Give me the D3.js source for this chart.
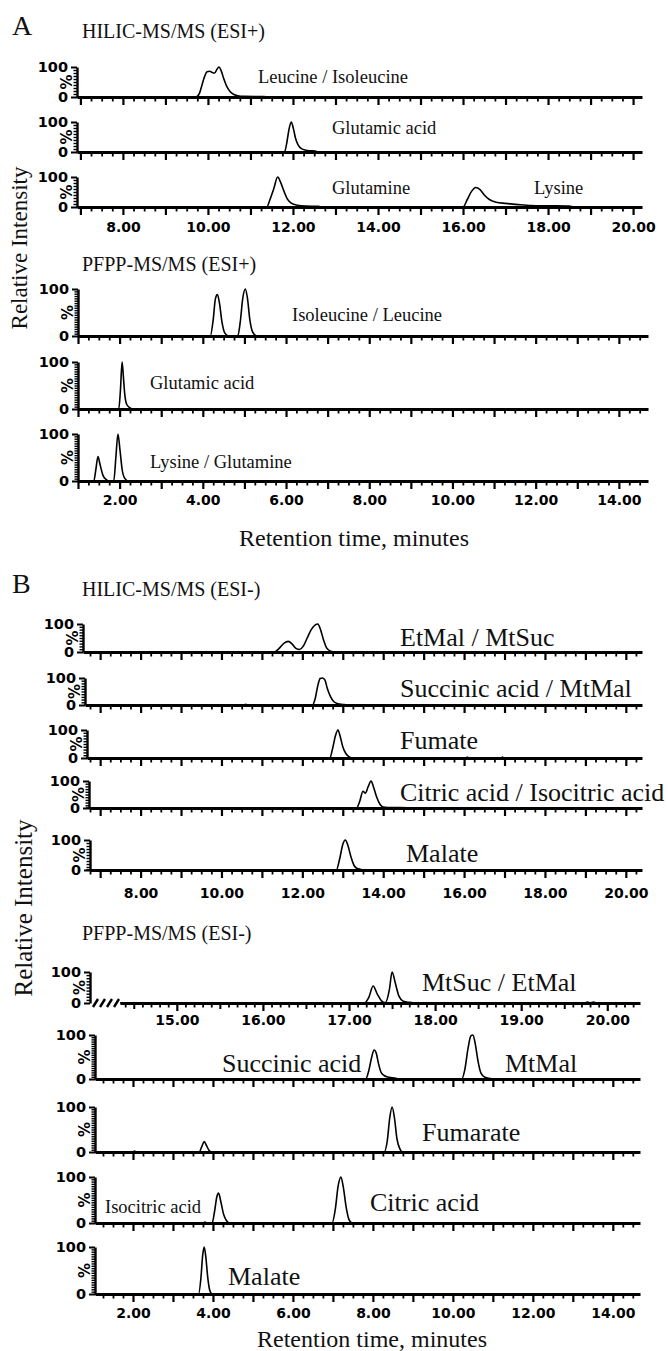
<!DOCTYPE html>
<html>
<head>
<meta charset="utf-8">
<script src="https://cdn.jsdelivr.net/npm/d3@7"></script>
<style>
  body { margin: 0; background: #fff; }
  svg { display: block; }
</style>
</head>
<body>
<div id="chart"></div>
<script>
// Chromatogram traces: [retention time (min), relative intensity (%)]
const aHilicLeuIle = [[6.92,0],[9.72,0],[9.8,12],[9.86,40],[9.92,68],[9.98,84],[10.04,86],[10.1,82],[10.16,80],[10.21,92],[10.26,100],[10.31,88],[10.37,62],[10.44,36],[10.52,18],[10.6,9],[10.7,4],[10.85,2],[11.1,1.5],[11.3,1.5],[11.45,0],[20.21,0]];
const aHilicGlu = [[6.92,0],[11.8,0],[11.86,35],[11.91,78],[11.96,100],[12.01,78],[12.06,46],[12.12,24],[12.2,11],[12.3,6],[12.42,4],[12.52,3],[12.58,0],[20.21,0]];
const aHilicGlnLys = [[6.92,0],[11.38,0],[11.46,25],[11.55,62],[11.64,100],[11.71,82],[11.79,52],[11.87,26],[11.97,12],[12.1,6],[12.3,3],[12.6,2],[12.68,0],[16.0,0],[16.1,25],[16.2,52],[16.3,65],[16.4,58],[16.5,40],[16.62,25],[16.78,16],[17.0,12],[17.3,8],[17.6,5],[18.0,4],[18.5,3],[18.6,0],[20.21,0]];

const aPfppIleLeu = [[1.0,0],[4.18,0],[4.25,35],[4.3,78],[4.35,88],[4.4,70],[4.46,30],[4.53,6],[4.62,0],[4.84,0],[4.9,30],[4.96,80],[5.02,100],[5.07,82],[5.13,35],[5.2,8],[5.3,0],[6.0,0]];
const aPfppGlu = [[1.0,0],[1.98,0],[2.02,40],[2.06,100],[2.09,70],[2.12,35],[2.17,10],[2.24,3],[2.3,0],[6.0,0]];
const aPfppLysGln = [[1.0,0],[1.38,0],[1.43,25],[1.48,52],[1.53,35],[1.6,12],[1.68,3],[1.75,0],[1.86,0],[1.91,50],[1.96,100],[2.01,65],[2.06,25],[2.12,6],[2.2,0],[6.0,0]];

const bHilicEtMalMtSuc = [[6.65,0],[11.3,0],[11.42,12],[11.55,32],[11.65,38],[11.75,28],[11.85,12],[11.93,9],[12.02,20],[12.12,50],[12.22,80],[12.32,97],[12.38,100],[12.45,80],[12.52,45],[12.6,15],[12.7,3],[12.8,0],[20.4,0]];
const bHilicSucMtMal = [[6.65,0],[10.55,0],[10.6,3],[10.65,0],[12.25,0],[12.32,25],[12.38,70],[12.44,98],[12.5,100],[12.56,92],[12.62,60],[12.7,30],[12.78,12],[12.88,5],[13.0,2],[13.1,0],[20.4,0]];
const bHilicFum = [[6.65,0],[12.68,0],[12.75,35],[12.82,80],[12.88,100],[12.94,75],[13.0,40],[13.08,15],[13.16,4],[13.25,0],[16.05,0],[16.08,3],[16.11,0],[16.92,0],[16.95,3],[16.98,0],[20.4,0]];
const bHilicCit = [[6.65,0],[13.34,0],[13.42,25],[13.5,62],[13.56,55],[13.63,80],[13.7,100],[13.76,78],[13.84,40],[13.92,14],[14.0,4],[14.2,2],[14.4,2],[14.6,1],[14.65,0],[20.4,0]];
const bHilicMal = [[6.65,0],[12.84,0],[12.92,35],[13.0,85],[13.06,100],[13.12,85],[13.2,45],[13.28,15],[13.36,5],[13.45,2],[13.5,0],[20.4,0]];

const bPfppMtSucEtMal = [[14.34,0],[17.18,0],[17.23,18],[17.28,55],[17.33,28],[17.38,6],[17.42,1],[17.47,45],[17.5,100],[17.54,62],[17.58,22],[17.63,6],[17.7,2],[17.8,0],[19.74,0],[19.77,3],[19.8,0],[19.84,3],[19.87,0],[20.38,0]];
const bPfppSucMtMal = [[1.05,0],[7.82,0],[7.9,20],[7.97,50],[8.03,66],[8.08,60],[8.14,35],[8.2,16],[8.28,8],[8.4,4],[8.55,2],[8.65,0],[10.22,0],[10.3,22],[10.38,70],[10.45,98],[10.5,100],[10.56,80],[10.63,40],[10.7,14],[10.8,4],[10.95,1],[11.0,0],[13.8,0]];
const bPfppFum = [[1.05,0],[2.0,0],[2.04,2],[2.08,0],[3.66,0],[3.72,12],[3.78,23],[3.84,14],[3.9,4],[3.96,0],[8.28,0],[8.36,25],[8.42,75],[8.48,100],[8.54,75],[8.6,30],[8.68,6],[8.75,0],[13.8,0]];
const bPfppCit = [[1.05,0],[3.75,0],[3.8,2],[3.85,0],[3.98,0],[4.04,25],[4.1,58],[4.14,65],[4.2,45],[4.27,18],[4.34,5],[4.42,0],[6.98,0],[7.06,30],[7.13,80],[7.2,100],[7.26,78],[7.33,35],[7.4,8],[7.48,0],[13.8,0]];
const bPfppMal = [[1.05,0],[3.64,0],[3.7,35],[3.74,80],[3.78,100],[3.82,80],[3.87,35],[3.92,8],[3.98,0],[13.8,0]];

// Tick labels (minutes)
const ticksAHilic = [8, 10, 12, 14, 16, 18, 20];
const ticksAPfpp = [2, 4, 6, 8, 10, 12, 14];
const ticksBHilic = [8, 10, 12, 14, 16, 18, 20];
const ticksBPfppTop = [15, 16, 17, 18, 19, 20];
const ticksBPfpp = [2, 4, 6, 8, 10, 12, 14];

// Text
const labelsAHilic = ["Leucine / Isoleucine", "Glutamic acid", "Glutamine", "Lysine"];
const labelsAPfpp = ["Isoleucine / Leucine", "Glutamic acid", "Lysine / Glutamine"];
const labelsBHilic = ["EtMal / MtSuc", "Succinic acid / MtMal", "Fumate", "Citric acid / Isocitric acid", "Malate"];
const labelsBPfpp = ["MtSuc / EtMal", "Succinic acid", "MtMal", "Fumarate", "Isocitric acid", "Citric acid", "Malate"];
const titles = ["HILIC-MS/MS (ESI+)", "PFPP-MS/MS (ESI+)", "HILIC-MS/MS (ESI-)", "PFPP-MS/MS (ESI-)"];
const panelLetters = ["A", "B"];
const axisTitles = ["Retention time, minutes", "Relative Intensity"];

const W = 668, H = 1351;
const serif = "'Liberation Serif', 'Times New Roman', serif";
const sans = "'DejaVu Sans', sans-serif";

// x scales for each block of traces
const groups = {
    aHilic: {x: d3.scaleLinear().domain([6.92, 20.21]).range([77, 642]), minor: 0.25},
    aPfpp: {x: d3.scaleLinear().domain([1.0, 14.7]).range([78, 648]), minor: 0.25},
    bHilic: {x: d3.scaleLinear().domain([6.65, 20.4]).range([86, 642]), minor: 0.25},
    bPfppTop: {x: d3.scaleLinear().domain([14.34, 20.38]).range([120, 640]), minor: 0.1},
    bPfpp: {x: d3.scaleLinear().domain([1.05, 14.68]).range([95, 640]), minor: 0.25}
};

const traces = [
    {group: "aHilic", data: aHilicLeuIle, left: 77, base: 97, h: 30,
        labels: [{text: labelsAHilic[0], x: 258, y: 77, size: 18.5}]},
    {group: "aHilic", data: aHilicGlu, left: 77, base: 152, h: 30,
        labels: [{text: labelsAHilic[1], x: 332, y: 128, size: 18.5}]},
    {group: "aHilic", data: aHilicGlnLys, left: 77, base: 207, h: 30, ticks: ticksAHilic, pad: 15,
        labels: [{text: labelsAHilic[2], x: 332, y: 188, size: 18.5}, {text: labelsAHilic[3], x: 534, y: 188, size: 18.5}]},

    {group: "aPfpp", data: aPfppIleLeu, left: 78, base: 336, h: 47,
        labels: [{text: labelsAPfpp[0], x: 292, y: 315, size: 18.5}]},
    {group: "aPfpp", data: aPfppGlu, left: 78, base: 409, h: 47,
        labels: [{text: labelsAPfpp[1], x: 150, y: 383, size: 18.5}]},
    {group: "aPfpp", data: aPfppLysGln, left: 78, base: 481, h: 47, ticks: ticksAPfpp, pad: 14,
        labels: [{text: labelsAPfpp[2], x: 150, y: 462, size: 18.5}]},

    {group: "bHilic", data: bHilicEtMalMtSuc, left: 83, base: 652, h: 28,
        labels: [{text: labelsBHilic[0], x: 400, y: 637, size: 26}]},
    {group: "bHilic", data: bHilicSucMtMal, left: 85, base: 705, h: 27,
        labels: [{text: labelsBHilic[1], x: 400, y: 688, size: 26}]},
    {group: "bHilic", data: bHilicFum, left: 87, base: 758, h: 28,
        labels: [{text: labelsBHilic[2], x: 400, y: 740, size: 26}]},
    {group: "bHilic", data: bHilicCit, left: 89, base: 808, h: 27,
        labels: [{text: labelsBHilic[3], x: 400, y: 792, size: 26}]},
    {group: "bHilic", data: bHilicMal, left: 90, base: 870, h: 30, ticks: ticksBHilic, pad: 18,
        labels: [{text: labelsBHilic[4], x: 406, y: 853, size: 26}]},

    {group: "bPfppTop", data: bPfppMtSucEtMal, left: 90, axisStart: 120, base: 1003, h: 31, ticks: ticksBPfppTop, pad: 12, broken: true,
        labels: [{text: labelsBPfpp[0], x: 422, y: 982, size: 26}]},
    {group: "bPfpp", data: bPfppSucMtMal, left: 95, base: 1079, h: 44,
        labels: [{text: labelsBPfpp[1], x: 222, y: 1063, size: 26}, {text: labelsBPfpp[2], x: 505, y: 1063, size: 26}]},
    {group: "bPfpp", data: bPfppFum, left: 95, base: 1152, h: 45,
        labels: [{text: labelsBPfpp[3], x: 422, y: 1132, size: 26}]},
    {group: "bPfpp", data: bPfppCit, left: 95, base: 1223, h: 46,
        labels: [{text: labelsBPfpp[4], x: 105, y: 1207, size: 18.5}, {text: labelsBPfpp[5], x: 370, y: 1202, size: 26}]},
    {group: "bPfpp", data: bPfppMal, left: 95, base: 1294, h: 47, ticks: ticksBPfpp, pad: 14,
        labels: [{text: labelsBPfpp[6], x: 228, y: 1276, size: 26}]}
];

const svg = d3.select("#chart")
    .append("svg")
    .attr("width", W)
    .attr("height", H);

svg.append("rect").attr("width", W).attr("height", H).attr("fill", "#fff");

function tickRange(d0, d1, step) {
    const start = Math.ceil(d0 / step - 1e-6);
    const out = [];
    for (let i = start; i * step <= d1 + 1e-9; i++) out.push(+(i * step).toFixed(3));
    return out;
}

function styleAxis(g, width) {
    g.selectAll(".tick line").attr("stroke", "#000").attr("stroke-width", width);
}

function drawTrace(t) {
    const grp = groups[t.group];
    const start = t.axisStart || t.left;
    const x = grp.x.copy()
        .domain([grp.x.invert(start), grp.x.domain()[1]])
        .range([start, grp.x.range()[1]]);
    const y = d3.scaleLinear().domain([0, 100]).range([t.base, t.base - t.h]);
    const g = svg.append("g");

    // x ticks: minor / half / whole minutes
    const [d0, d1] = x.domain();
    const all = tickRange(d0, d1, grp.minor);
    const isWhole = v => Math.abs(v - Math.round(v)) < 1e-6;
    const isHalf = v => !isWhole(v) && Math.abs(v * 2 - Math.round(v * 2)) < 1e-6;
    const fine = t.group === "bPfppTop";
    const minor = all.filter(v => !isWhole(v) && !(fine && isHalf(v)));
    const half = fine ? all.filter(isHalf) : [];
    const major = all.filter(isWhole);

    g.append("g")
        .attr("transform", `translate(0,${t.base})`)
        .call(d3.axisBottom(x).tickValues(minor).tickSize(4.5).tickSizeOuter(0).tickFormat(""))
        .call(a => a.select(".domain").remove())
        .call(a => styleAxis(a, 1.8));
    if (half.length) {
        g.append("g")
            .attr("transform", `translate(0,${t.base})`)
            .call(d3.axisBottom(x).tickValues(half).tickSize(6).tickSizeOuter(0).tickFormat(""))
            .call(a => a.select(".domain").remove())
            .call(a => styleAxis(a, 2));
    }
    g.append("g")
        .attr("transform", `translate(0,${t.base})`)
        .call(d3.axisBottom(x).tickValues(major).tickSize(8).tickSizeOuter(0).tickFormat(""))
        .call(a => a.select(".domain").attr("stroke", "#000").attr("stroke-width", 3))
        .call(a => styleAxis(a, 2.2));

    if (t.ticks) {
        g.append("g")
            .attr("transform", `translate(0,${t.base})`)
            .call(d3.axisBottom(x).tickValues(t.ticks).tickSize(0).tickPadding(t.pad).tickFormat(d3.format(".2f")))
            .call(a => a.select(".domain").remove())
            .attr("font-family", sans)
            .attr("font-size", 14)
            .attr("font-weight", "bold")
            .selectAll("text").attr("fill", "#000");
    }

    // y axis
    const yg = g.append("g").attr("transform", `translate(${t.left},0)`);
    const yStep = t.h > 40 ? 5 : 10;
    yg.append("g")
        .call(d3.axisLeft(y).tickValues(d3.range(yStep, 100, yStep)).tickSize(3.5).tickSizeOuter(0).tickFormat(""))
        .call(a => a.select(".domain").remove())
        .call(a => styleAxis(a, 1.4));
    yg.append("g")
        .call(d3.axisLeft(y).tickValues([0, 100]).tickSize(6).tickSizeOuter(0).tickPadding(3).tickFormat(d => d))
        .call(a => a.select(".domain").attr("stroke", "#000").attr("stroke-width", 2.4))
        .call(a => styleAxis(a, 2))
        .attr("font-family", sans)
        .attr("font-size", 14.5)
        .attr("font-weight", "bold")
        .selectAll("text").attr("fill", "#000");
    yg.append("text")
        .attr("transform", `translate(-10,${(y(0) + y(100)) / 2}) rotate(-90)`)
        .attr("text-anchor", "middle")
        .attr("dominant-baseline", "central")
        .attr("font-family", sans)
        .attr("font-size", 15)
        .attr("font-weight", "bold")
        .text("%");

    // broken axis marks
    if (t.broken) {
        g.selectAll("line.brk")
            .data(d3.range(4))
            .join("line")
            .attr("x1", i => t.left + 3 + i * 7)
            .attr("x2", i => t.left + 8 + i * 7)
            .attr("y1", t.base + 4)
            .attr("y2", t.base - 4)
            .attr("stroke", "#000")
            .attr("stroke-width", 2.4);
    }

    // chromatogram
    g.append("path")
        .datum(t.data)
        .attr("fill", "none")
        .attr("stroke", "#000")
        .attr("stroke-width", 1.6)
        .attr("stroke-linejoin", "round")
        .attr("d", d3.line()
            .x(d => x(d[0]))
            .y(d => y(d[1]))
            .curve(d3.curveMonotoneX));

    // compound labels
    g.selectAll("text.lbl")
        .data(t.labels)
        .join("text")
        .attr("class", "lbl")
        .attr("x", d => d.x)
        .attr("y", d => d.y)
        .attr("dominant-baseline", "central")
        .attr("font-family", serif)
        .attr("font-size", d => d.size)
        .attr("fill", "#111")
        .text(d => d.text);
}

traces.forEach(drawTrace);

// panel letters, block titles, axis titles
const freeText = [
    {text: panelLetters[0], x: 12, y: 35, size: 28},
    {text: titles[0], x: 82, y: 38, size: 20},
    {text: titles[1], x: 82, y: 271, size: 20},
    {text: axisTitles[0], x: 354, y: 546, size: 24, anchor: "middle"},
    {text: panelLetters[1], x: 12, y: 593, size: 28},
    {text: titles[2], x: 82, y: 596, size: 20},
    {text: titles[3], x: 82, y: 940, size: 20},
    {text: axisTitles[0], x: 372, y: 1347, size: 24, anchor: "middle"}
];

svg.selectAll("text.free")
    .data(freeText)
    .join("text")
    .attr("class", "free")
    .attr("x", d => d.x)
    .attr("y", d => d.y)
    .attr("text-anchor", d => d.anchor || "start")
    .attr("font-family", serif)
    .attr("font-size", d => d.size)
    .attr("fill", "#111")
    .text(d => d.text);

// rotated y titles
[{x: 27, y: 248, size: 23}, {x: 32, y: 908, size: 25}].forEach(p => {
    svg.append("text")
        .attr("transform", `translate(${p.x},${p.y}) rotate(-90)`)
        .attr("text-anchor", "middle")
        .attr("font-family", serif)
        .attr("font-size", p.size)
        .attr("fill", "#111")
        .text(axisTitles[1]);
});
</script>
</body>
</html>
